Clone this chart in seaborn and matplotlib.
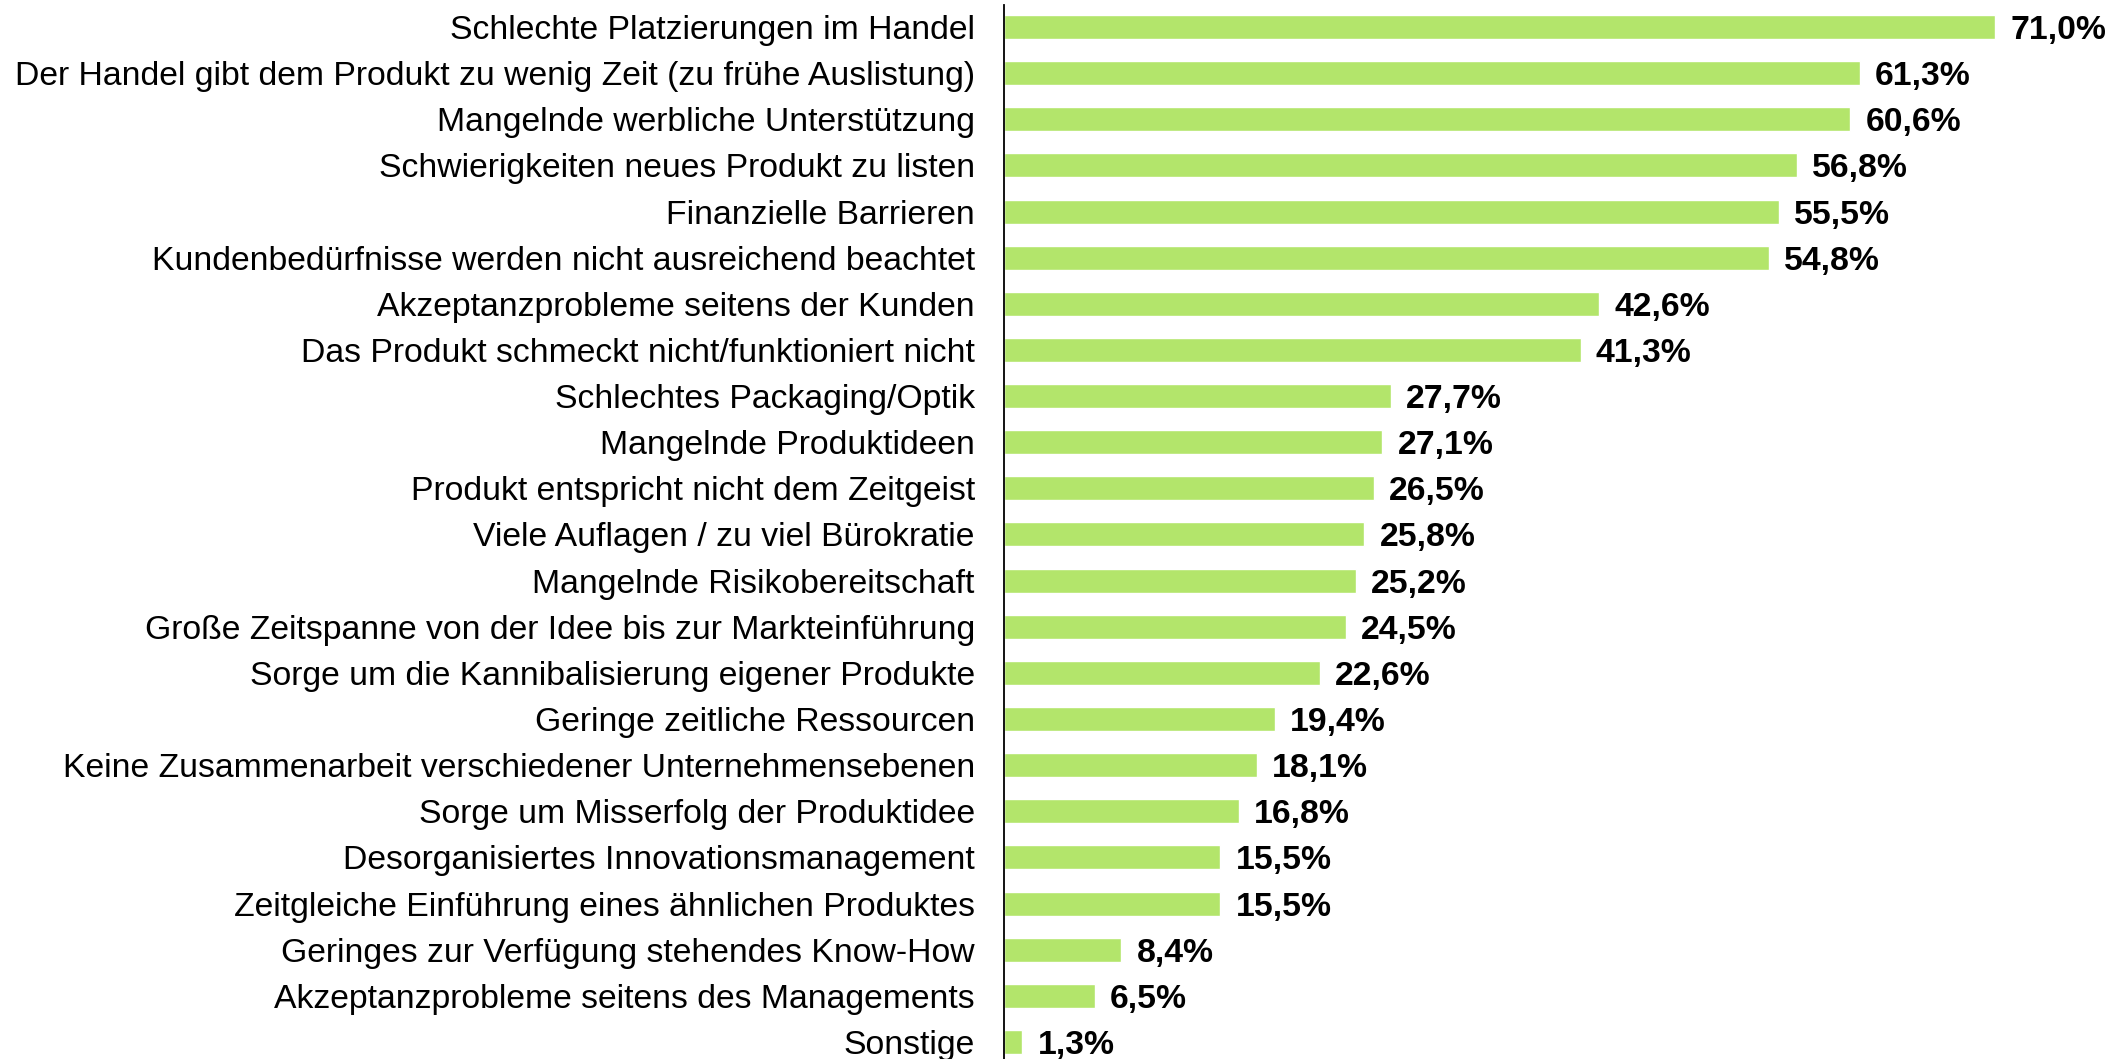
import matplotlib
matplotlib.use("Agg")
import matplotlib.pyplot as plt
import seaborn as sns
import pandas as pd

categories = [
    "Schlechte Platzierungen im Handel",
    "Der Handel gibt dem Produkt zu wenig Zeit (zu frühe Auslistung)",
    "Mangelnde werbliche Unterstützung",
    "Schwierigkeiten neues Produkt zu listen",
    "Finanzielle Barrieren",
    "Kundenbedürfnisse werden nicht ausreichend beachtet",
    "Akzeptanzprobleme seitens der Kunden",
    "Das Produkt schmeckt nicht/funktioniert nicht",
    "Schlechtes Packaging/Optik",
    "Mangelnde Produktideen",
    "Produkt entspricht nicht dem Zeitgeist",
    "Viele Auflagen / zu viel Bürokratie",
    "Mangelnde Risikobereitschaft",
    "Große Zeitspanne von der Idee bis zur Markteinführung",
    "Sorge um die Kannibalisierung eigener Produkte",
    "Geringe zeitliche Ressourcen",
    "Keine Zusammenarbeit verschiedener Unternehmensebenen",
    "Sorge um Misserfolg der Produktidee",
    "Desorganisiertes Innovationsmanagement",
    "Zeitgleiche Einführung eines ähnlichen Produktes",
    "Geringes zur Verfügung stehendes Know-How",
    "Akzeptanzprobleme seitens des Managements",
    "Sonstige",
]
values = [71.0, 61.3, 60.6, 56.8, 55.5, 54.8, 42.6, 41.3, 27.7, 27.1, 26.5,
          25.8, 25.2, 24.5, 22.6, 19.4, 18.1, 16.8, 15.5, 15.5, 8.4, 6.5, 1.3]
value_labels = [f"{v:.1f}%".replace(".", ",") for v in values]

df = pd.DataFrame({"Kategorie": categories, "Wert": values})

sns.set_theme(style="white")
plt.rcParams["font.family"] = ["Liberation Sans", "DejaVu Sans"]

fig = plt.figure(figsize=(21.28, 10.59), dpi=100)
W, H = 2128, 1059
left_px, top_px = 1004, 5
ax = fig.add_axes([left_px / W, 0, 1 - left_px / W, 1 - top_px / H])

sns.barplot(data=df, x="Wert", y="Kategorie", color="#B3E56B", saturation=1,
            width=0.52, ax=ax, orient="h")

texts = ax.bar_label(ax.containers[0], labels=value_labels, padding=11,
                     fontsize=24.3, fontweight="bold", color="black")
for t in texts:
    t.set_va("center_baseline")

ax.set_xlim(0, 80.5)
ax.set_ylim(22.37, -0.477)
ax.set_xlabel("")
ax.set_ylabel("")
ax.set_xticks([])
ax.tick_params(axis="y", length=0, pad=21, labelsize=24.3, colors="black")
for s in ["top", "right", "bottom"]:
    ax.spines[s].set_visible(False)
ax.spines["left"].set_color("black")
ax.spines["left"].set_linewidth(1.3)

fig.savefig("out.png", dpi=100)
